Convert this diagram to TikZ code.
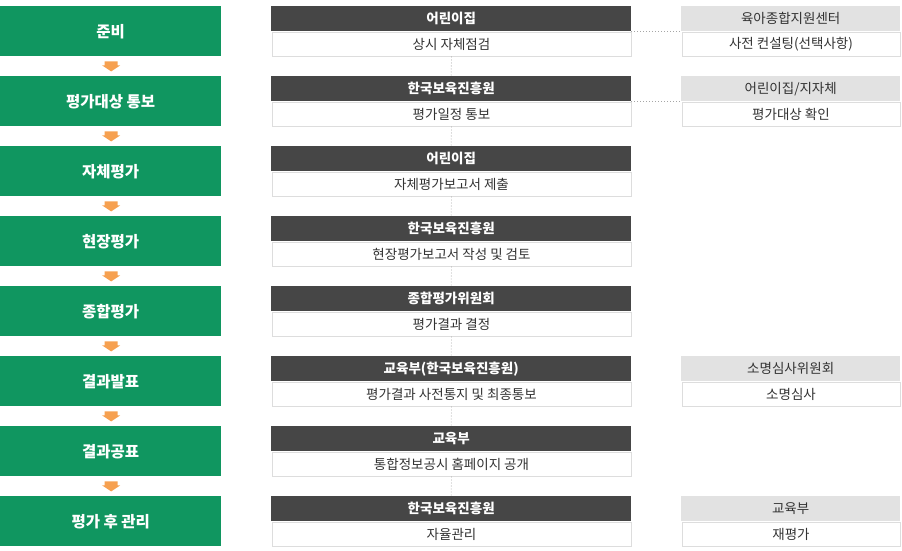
\documentclass[tikz,border=0pt]{standalone}
\usepackage{fontspec}
\setmainfont{Noto Sans CJK KR}
\usetikzlibrary{calc}
\definecolor{grn}{RGB}{16,150,96}
\definecolor{dhdr}{RGB}{70,70,70}
\definecolor{lhdr}{RGB}{226,226,226}
\definecolor{bord}{RGB}{221,221,221}
\definecolor{txt}{RGB}{51,51,51}
\definecolor{org}{RGB}{246,160,80}
\tikzset{
  greenbox/.style={fill=grn,text=white,font=\fontsize{15.5}{17}\selectfont\bfseries,minimum width=221pt,minimum height=50pt,anchor=north west,inner sep=0pt},
  hdr/.style={fill=dhdr,text=white,font=\fontsize{13.5}{15}\selectfont\bfseries,minimum width=360pt,minimum height=25pt,anchor=north west,inner sep=0pt},
  cnt/.style={fill=white,draw=bord,line width=1pt,text=txt,font=\fontsize{13.5}{15}\selectfont,minimum width=359pt,minimum height=24pt,anchor=north west,inner sep=0pt},
  rhdr/.style={fill=lhdr,text=txt,font=\fontsize{13.5}{15}\selectfont,minimum width=219pt,minimum height=25pt,anchor=north west,inner sep=0pt},
  rcnt/.style={fill=white,draw=bord,line width=1pt,text=txt,font=\fontsize{13.5}{15}\selectfont,minimum width=218pt,minimum height=24pt,anchor=north west,inner sep=0pt},
  dots/.style={draw=gray!70,line width=0.8pt,dash pattern=on 0.8pt off 2.2pt},
  downarrow/.style={fill=org},
}
\begin{document}
\begin{tikzpicture}[x=1pt,y=-1pt]
\useasboundingbox (0,0) rectangle (902,550);
% left column
\node[greenbox] (g1) at (0,6) {준비};
\node[greenbox] (g2) at (0,76) {평가대상 통보};
\node[greenbox] (g3) at (0,146) {자체평가};
\node[greenbox] (g4) at (0,216) {현장평가};
\node[greenbox] (g5) at (0,286) {종합평가};
\node[greenbox] (g6) at (0,356) {결과발표};
\node[greenbox] (g7) at (0,426) {결과공표};
\node[greenbox] (g8) at (0,496) {평가 후 관리};
% arrows
\foreach \a in {g1,g2,g3,g4,g5,g6,g7}{
  \path[downarrow] ($(\a.south)+(-6,5)$) -- ($(\a.south)+(7,5)$) -- ($(\a.south)+(7,9)$) -- ($(\a.south)+(9.5,9)$) -- ($(\a.south)+(0.5,15)$) -- ($(\a.south)+(-8.5,9)$) -- ($(\a.south)+(-6,9)$) -- cycle;
}
% middle column
\node[hdr] (m1h) at (271,6) {어린이집};
\node[cnt] (m1c) at (271.5,31.5) {상시 자체점검};
\node[hdr] (m2h) at (271,76) {한국보육진흥원};
\node[cnt] (m2c) at (271.5,101.5) {평가일정 통보};
\node[hdr] (m3h) at (271,146) {어린이집};
\node[cnt] (m3c) at (271.5,171.5) {자체평가보고서 제출};
\node[hdr] (m4h) at (271,216) {한국보육진흥원};
\node[cnt] (m4c) at (271.5,241.5) {현장평가보고서 작성 및 검토};
\node[hdr] (m5h) at (271,286) {종합평가위원회};
\node[cnt] (m5c) at (271.5,311.5) {평가결과 결정};
\node[hdr] (m6h) at (271,356) {교육부(한국보육진흥원)};
\node[cnt] (m6c) at (271.5,381.5) {평가결과 사전통지 및 최종통보};
\node[hdr] (m7h) at (271,426) {교육부};
\node[cnt] (m7c) at (271.5,451.5) {통합정보공시 홈페이지 공개};
\node[hdr] (m8h) at (271,496) {한국보육진흥원};
\node[cnt] (m8c) at (271.5,521.5) {자율관리};
% right column
\node[rhdr] (r1h) at (681,6) {육아종합지원센터};
\node[rcnt] (r1c) at (681.5,31.5) {사전 컨설팅(선택사항)};
\node[rhdr] (r2h) at (681,76) {어린이집/지자체};
\node[rcnt] (r2c) at (681.5,101.5) {평가대상 확인};
\node[rhdr] (r6h) at (681,356) {소명심사위원회};
\node[rcnt] (r6c) at (681.5,381.5) {소명심사};
\node[rhdr] (r8h) at (681,496) {교육부};
\node[rcnt] (r8c) at (681.5,521.5) {재평가};
% dotted connectors
\foreach \a/\b in {m1c/m2h,m2c/m3h,m3c/m4h,m4c/m5h,m5c/m6h,m6c/m7h,m7c/m8h}{
  \draw[dots] (\a.south) -- (\b.north);
}
\draw[dots] (m1h.south east) -- (r1h.south west);
\draw[dots] (m2h.south east) -- (r2h.south west);
\end{tikzpicture}
\end{document}
